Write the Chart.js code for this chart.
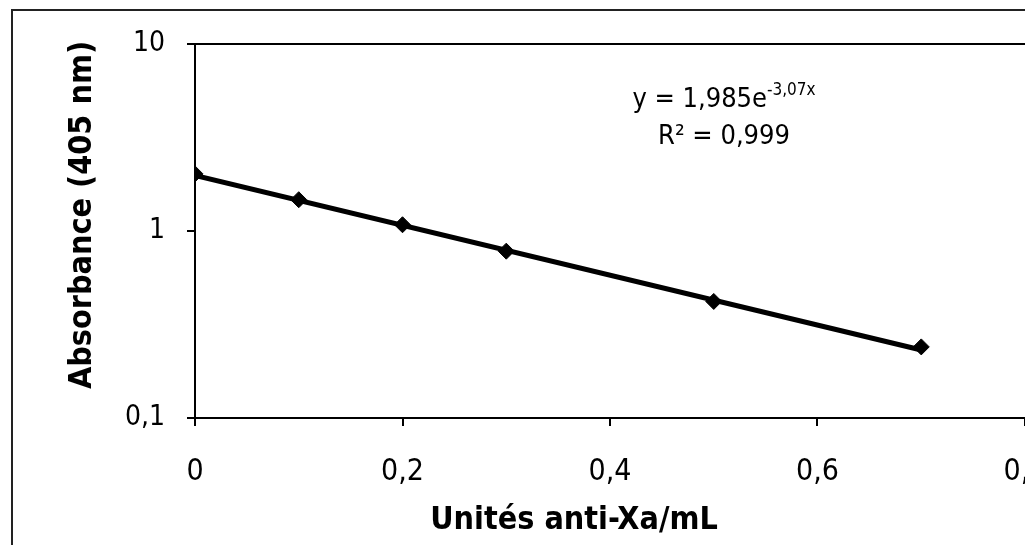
<!DOCTYPE html>
<html>
<head>
<meta charset="utf-8">
<script src="https://cdn.jsdelivr.net/npm/chart.js@4.4.0/dist/chart.umd.min.js"></script>
<style>
  html, body { margin: 0; padding: 0; background: #fff; overflow: hidden; }
  #wrap { position: relative; width: 1025px; height: 545px; }
  #frame { position: absolute; left: 11px; top: 9px; width: 1100px; height: 600px; border-left: 2px solid #222; border-top: 2px solid #222; }
  canvas { position: absolute; left: 0; top: 0; }
</style>
</head>
<body>
<div id="wrap">
  <div id="frame"></div>
  <canvas id="myChart" width="1025" height="545"></canvas>
</div>
<script>
// data
var doses = [0, 0.1, 0.2, 0.3, 0.5, 0.7];
var absorbance = [2.02, 1.47, 1.08, 0.78, 0.42, 0.24];

// exponential trend line end points (y = 1,985e-3,07x)
var trendX = [0, 0.7];
var trendY = [1.985, 0.231];

var xTicks = [0, 0.2, 0.4, 0.6, 0.8];
var yTicks = [0.1, 1, 10];

var FAM = '"DejaVu Sans Condensed", "DejaVu Sans", sans-serif';

function fmt(v) {
    return String(v).replace('.', ',');
}

// axis titles and the equation / R² label, drawn on top of the chart
var labelsPlugin = {
    id: 'labels',
    afterDraw: function (chart) {
        var c = chart.ctx;
        c.save();
        c.fillStyle = '#000';

        // axis titles
        c.font = 'bold 32px ' + FAM;
        c.textAlign = 'center';
        c.textBaseline = 'middle';
        c.fillText('Unités anti-Xa/mL', 574, 521);
        c.save();
        c.translate(83, 215);
        c.rotate(-Math.PI / 2);
        c.fillText('Absorbance (405 nm)', 0, 0);
        c.restore();

        // equation
        var cx = 724;
        c.textBaseline = 'alphabetic';
        c.textAlign = 'left';
        var main = 'y = 1,985e', sup = '-3,07x';
        c.font = '27px ' + FAM;
        var w1 = c.measureText(main).width;
        c.font = '17px ' + FAM;
        var w2 = c.measureText(sup).width;
        var x0 = cx - (w1 + w2) / 2;
        c.font = '27px ' + FAM;
        c.fillText(main, x0, 107);
        c.font = '17px ' + FAM;
        c.fillText(sup, x0 + w1, 95);

        c.font = '27px ' + FAM;
        c.textAlign = 'center';
        c.fillText('R² = 0,999', cx, 144);
        c.restore();
    }
};

var ctx = document.getElementById('myChart').getContext('2d');

var myChart = new Chart(ctx, {
    type: 'scatter',
    data: {
        datasets: [{
            label: 'Absorbance',
            data: doses.map(function (x, i) { return { x: x, y: absorbance[i] }; }),
            pointStyle: 'rectRot',
            pointRadius: 8,
            backgroundColor: '#000',
            borderColor: '#000',
            borderWidth: 1
        }, {
            label: 'Tendance',
            data: trendX.map(function (x, i) { return { x: x, y: trendY[i] }; }),
            showLine: true,
            borderColor: '#000',
            borderWidth: 5,
            pointRadius: 0
        }]
    },
    options: {
        responsive: false,
        animation: false,
        devicePixelRatio: 1,
        layout: { autoPadding: false, padding: { top: 44, right: 0, bottom: 0, left: 0 } },
        plugins: {
            legend: { display: false },
            tooltip: { enabled: false }
        },
        scales: {
            x: {
                type: 'linear',
                min: 0,
                max: 0.8,
                afterBuildTicks: function (s) {
                    s.ticks = xTicks.map(function (v) { return { value: v }; });
                },
                afterFit: function (s) {
                    s.height = 127;
                    s.paddingLeft = 0;
                    s.paddingRight = 0;
                },
                ticks: {
                    callback: fmt,
                    font: { family: FAM, size: 30 },
                    color: '#000',
                    padding: 28,
                    maxRotation: 0,
                    autoSkip: false
                },
                grid: {
                    drawOnChartArea: false,
                    tickLength: 8,
                    tickColor: '#000',
                    lineWidth: 2
                },
                border: { color: '#000', width: 2 }
            },
            y: {
                type: 'logarithmic',
                min: 0.1,
                max: 10,
                afterBuildTicks: function (s) {
                    s.ticks = yTicks.map(function (v) { return { value: v }; });
                },
                afterFit: function (s) {
                    s.width = 195;
                    s.paddingTop = 0;
                    s.paddingBottom = 0;
                },
                ticks: {
                    callback: fmt,
                    font: { family: FAM, size: 28 },
                    color: '#000',
                    padding: 22
                },
                grid: {
                    color: function (c) {
                        return c.tick && c.tick.value === 10 ? '#000' : 'rgba(0,0,0,0)';
                    },
                    tickLength: 8,
                    tickColor: '#000',
                    lineWidth: 2
                },
                border: { color: '#000', width: 2 }
            }
        }
    },
    plugins: [labelsPlugin]
});
</script>
</body>
</html>
